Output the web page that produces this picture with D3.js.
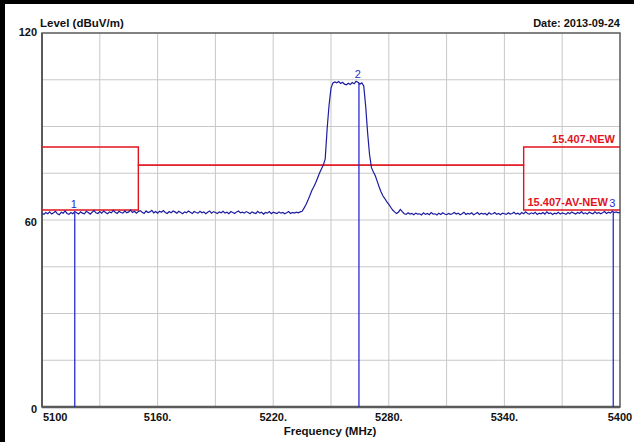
<!DOCTYPE html>
<html>
<head>
<meta charset="utf-8">
<script src="https://cdn.jsdelivr.net/npm/d3@7"></script>
<style>
  body { margin: 0; background: #fff; }
  svg text { font-family: Arial, "Liberation Sans", sans-serif; font-weight: bold; }
</style>
</head>
<body>
<svg id="chart" width="634" height="442"></svg>
<script>
// sweep: 5100 MHz .. 5400 MHz, 1 MHz per point
var sweepStart = 5100;
var sweepStep = 1;

var noiseLow = [
  62.1,61.8,62.4,62.0,62.6,61.9,62.3,62.8,62.0,61.7,62.5,62.2,62.9,62.1,61.8,
  62.4,62.0,62.7,62.3,61.9,62.6,62.2,62.0,62.8,62.4,61.9,62.5,63.0,62.3,62.1,
  62.7,62.2,62.9,62.4,62.0,62.6,62.3,63.1,62.5,62.1,62.8,62.4,62.2,62.9,62.3,
  62.6,63.2,62.4,62.8,62.2,62.7,63.0,62.5,62.1,62.9,62.4,62.6,63.1,62.3,62.7,
  62.2,62.8,62.5,63.0,62.4,62.1,62.7,62.3,62.9,62.6,62.2,62.8,62.4,62.0,62.6,
  62.3,62.9,62.5,62.1,62.7,62.4,62.2,62.8,62.3,62.6,62.0,62.5,62.9,62.2,62.7,
  62.4,62.1,62.6,62.3,62.8,62.2,62.5,62.0,62.7,62.4,62.1,62.6,62.9,62.3,62.5,
  62.2,62.7,62.4,62.0,62.6,62.3,62.1,62.8,62.2,62.5,61.9,62.4,62.2,62.7,62.0,
  62.5,62.3,62.1,62.6,62.2,62.4,62.0,62.3,62.7,62.1,62.4,62.2,62.5,62.3,62.6
];
var carrierRise = [62.8,63.8,64.9,66.3,67.8,69.4,70.6,71.9,73.4,75.0,76.4,77.6,79.6,89.3,96.9,102.3,104.0];
var carrierTop = [104.3,104.0,104.4,103.8,104.2,103.6,103.4,103.9,103.5,104.1,103.7,104.5,104.2,103.6,104.0,103.0];
var carrierFall = [96.5,88.0,81.0,76.8,75.4,74.2,72.4,70.6,69.0,67.7,66.8,65.8,65.0,64.1,63.2,62.6];
var noiseHigh = [
  62.1,62.5,63.4,62.7,62.0,61.8,62.3,61.9,62.1,61.7,62.2,61.9,62.0,61.6,62.3,
  61.8,62.1,61.7,62.4,61.9,62.0,61.6,62.2,61.8,62.3,61.9,61.7,62.1,61.8,62.0,
  62.4,61.9,62.2,61.7,62.0,62.5,61.8,62.1,61.9,62.3,61.7,62.0,62.4,61.8,62.2,
  61.9,62.1,61.6,62.3,61.9,62.0,62.4,61.8,62.1,61.7,62.2,62.0,61.8,62.3,61.9,
  62.1,62.5,61.9,62.2,61.8,62.4,62.0,62.6,62.1,61.9,62.3,62.0,62.5,61.8,62.2,
  62.0,62.4,61.9,62.6,62.1,62.3,61.8,62.2,62.0,62.5,61.9,62.3,62.1,61.8,62.4,
  62.0,62.6,62.2,61.9,62.4,62.1,62.7,62.0,62.3,61.9,62.5,62.2,62.0,62.6,62.1,
  62.4,62.0,62.3,62.7,62.1,62.5,62.2,62.8,62.4,62.6,62.3,62.5
];

// limit lines (step after)
var limitFreqs = [5100, 5150, 5350, 5400];
var peakLimit = [83.4, 77.6, 83.4, 83.4];
var avLimit = [63.2, 77.6, 63.2, 63.2];
var limitNames = ["15.407-NEW", "15.407-AV-NEW"];

// markers
var markerFreqs = [5117, 5264.5, 5396.5];
var markerLevels = [62.4, 104.0, 62.5];
var markerNames = ["1", "2", "3"];

var xTicks = [5100, 5160, 5220, 5280, 5340, 5400];
var xTickLabels = ["5100", "5160.", "5220.", "5280.", "5340.", "5400"];
var yTicks = [0, 60, 120];

var traceLevels = noiseLow.concat(carrierRise, carrierTop, carrierFall, noiseHigh);
var trace = traceLevels.map((v, i) => ({f: sweepStart + i * sweepStep, v: v}));

var margin = {top: 33, right: 14, bottom: 35, left: 42};
var W = 634, H = 442;
var w = W - margin.left - margin.right;
var h = H - margin.top - margin.bottom;

var svg = d3.select("#chart");

// black frame on the top and left edge
svg.append("rect").attr("x", 0).attr("y", 0).attr("width", W).attr("height", 4).attr("fill", "#000");
svg.append("rect").attr("x", 0).attr("y", 0).attr("width", 5).attr("height", H).attr("fill", "#000");

var g = svg.append("g").attr("transform", `translate(${margin.left},${margin.top})`);

var x = d3.scaleLinear().domain([5100, 5400]).range([0, w]);
var y = d3.scaleLinear().domain([0, 120]).range([h, 0]);

// grid
g.append("g").selectAll("line").data(d3.range(5130, 5400, 30))
  .enter().append("line")
  .attr("x1", d => x(d)).attr("x2", d => x(d))
  .attr("y1", 0).attr("y2", h)
  .attr("stroke", "#c8c8c8").attr("stroke-width", 1);
g.append("g").selectAll("line").data(d3.range(15, 120, 15))
  .enter().append("line")
  .attr("x1", 0).attr("x2", w)
  .attr("y1", d => y(d)).attr("y2", d => y(d))
  .attr("stroke", "#c8c8c8").attr("stroke-width", 1);

// frame
g.append("rect").attr("width", w).attr("height", h)
  .attr("fill", "none").attr("stroke", "#5a5a5a").attr("stroke-width", 1.5);
g.append("line").attr("x1", 0).attr("x2", 0).attr("y1", 0).attr("y2", h)
  .attr("stroke", "#5a5a5a").attr("stroke-width", 2);
g.append("line").attr("x1", 0).attr("x2", w).attr("y1", h).attr("y2", h)
  .attr("stroke", "#5a5a5a").attr("stroke-width", 2.5);

// limit lines
var limitLine = d3.line()
  .x((d, i) => x(limitFreqs[i]))
  .y(d => y(d))
  .curve(d3.curveStepAfter);
[peakLimit, avLimit].forEach(lim => {
  g.append("path").datum(lim)
    .attr("d", limitLine)
    .attr("fill", "none")
    .attr("stroke", "#e0141e")
    .attr("stroke-width", 1.4);
});

// trace
var traceLine = d3.line().x(d => x(d.f)).y(d => y(d.v));
g.append("path").datum(trace)
  .attr("d", traceLine)
  .attr("fill", "none")
  .attr("stroke", "#1c1ca0")
  .attr("stroke-width", 1.2);

// markers
markerFreqs.forEach((f, i) => {
  g.append("line")
    .attr("x1", x(f)).attr("x2", x(f))
    .attr("y1", y(markerLevels[i])).attr("y2", h)
    .attr("stroke", "#2a2ad2").attr("stroke-width", 1.3);
});

// limit labels (AV label kept just clear of marker 3)
g.append("text").attr("x", w - 5).attr("y", y(peakLimit[3]) - 4)
  .attr("text-anchor", "end").attr("fill", "#e0141e").attr("font-size", 11)
  .text(limitNames[0]);
g.append("text").attr("x", w - 12).attr("y", y(avLimit[3]) - 4)
  .attr("text-anchor", "end").attr("fill", "#e0141e").attr("font-size", 11)
  .text(limitNames[1]);

markerFreqs.forEach((f, i) => {
  g.append("text")
    .attr("x", x(f) - 1).attr("y", y(markerLevels[i]) - 5)
    .attr("text-anchor", "middle")
    .attr("fill", "#2a2ad2")
    .attr("font-size", 11)
    .style("font-weight", "normal")
    .text(markerNames[i]);
});

// axis labels
g.selectAll(".xlab").data(xTicks).enter().append("text")
  .attr("x", (d, i) => i === 0 ? x(d) + 1 : x(d))
  .attr("y", h + 14)
  .attr("text-anchor", (d, i) => i === 0 ? "start" : "middle")
  .attr("font-size", 11)
  .attr("fill", "#111")
  .text((d, i) => xTickLabels[i]);

g.selectAll(".ylab").data(yTicks).enter().append("text")
  .attr("x", -5)
  .attr("y", d => y(d) + (d === 120 ? 3 : 6))
  .attr("text-anchor", "end")
  .attr("font-size", 11)
  .attr("fill", "#111")
  .text(d => d);

svg.append("text").attr("x", 40).attr("y", 27)
  .attr("font-size", 11.5).attr("fill", "#111").text("Level (dBuV/m)");
svg.append("text").attr("x", 620).attr("y", 27).attr("text-anchor", "end")
  .attr("font-size", 11).attr("fill", "#111").text("Date: 2013-09-24");
svg.append("text").attr("x", 330).attr("y", 435).attr("text-anchor", "middle")
  .attr("font-size", 11.5).attr("fill", "#111").text("Frequency (MHz)");
</script>
</body>
</html>
